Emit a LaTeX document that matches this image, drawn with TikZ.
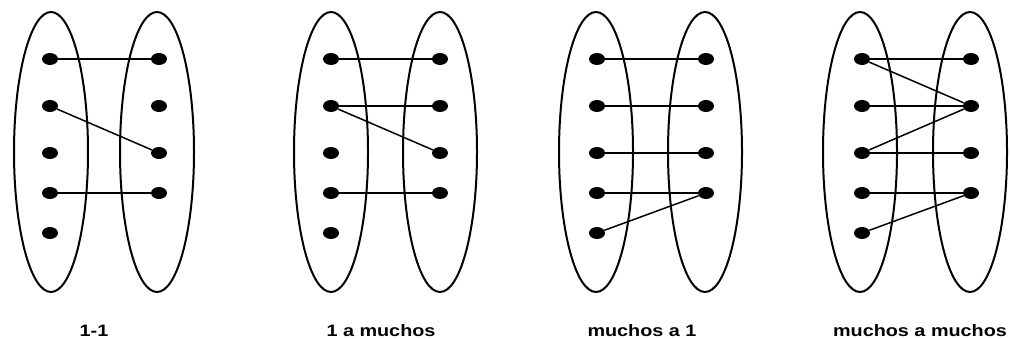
\documentclass[tikz,border=0pt]{standalone}
\usepackage{fontspec}
\setmainfont{Liberation Sans}
\usetikzlibrary{shapes.geometric}

\begin{document}
\begin{tikzpicture}[x=1pt, y=1pt,
  dot/.style={ellipse, fill=black, minimum width=16pt, minimum height=12pt, inner sep=0pt},
  set/.style={line width=2pt},
  link/.style={line width=1.5pt},
  caption/.style={anchor=base, font=\fontsize{16.5}{18}\selectfont\bfseries, xscale=1.2}]
  \useasboundingbox (0,0) rectangle (1011,339);

  % 1-1
  \draw[set] (51,187) ellipse (37 and 140);
  \draw[set] (157,187) ellipse (37 and 140);
  \node[dot] (a1) at (50,280) {};
  \node[dot] (a2) at (50,233) {};
  \node[dot] (a3) at (50,186) {};
  \node[dot] (a4) at (50,146) {};
  \node[dot] (a5) at (50,106) {};
  \node[dot] (b1) at (159,280) {};
  \node[dot] (b2) at (159,233) {};
  \node[dot] (b3) at (159,186) {};
  \node[dot] (b4) at (159,146) {};
  \draw[link] (a1) -- (b1);
  \draw[link] (a2) -- (b3);
  \draw[link] (a4) -- (b4);
  \node[caption] (lab1) at (94,2) {1-1};

  % 1 a muchos
  \draw[set] (331,187) ellipse (37 and 140);
  \draw[set] (440,187) ellipse (37 and 140);
  \node[dot] (c1) at (331,280) {};
  \node[dot] (c2) at (331,233) {};
  \node[dot] (c3) at (331,186) {};
  \node[dot] (c4) at (331,146) {};
  \node[dot] (c5) at (331,106) {};
  \node[dot] (d1) at (440,280) {};
  \node[dot] (d2) at (440,233) {};
  \node[dot] (d3) at (440,186) {};
  \node[dot] (d4) at (440,146) {};
  \draw[link] (c1) -- (d1);
  \draw[link] (c2) -- (d2);
  \draw[link] (c2) -- (d3);
  \draw[link] (c4) -- (d4);
  \node[caption] (lab2) at (381,2) {1 a muchos};

  % muchos a 1
  \draw[set] (596,187) ellipse (37 and 140);
  \draw[set] (705,187) ellipse (37 and 140);
  \node[dot] (e1) at (597,280) {};
  \node[dot] (e2) at (597,233) {};
  \node[dot] (e3) at (597,186) {};
  \node[dot] (e4) at (597,146) {};
  \node[dot] (e5) at (597,106) {};
  \node[dot] (f1) at (706,280) {};
  \node[dot] (f2) at (706,233) {};
  \node[dot] (f3) at (706,186) {};
  \node[dot] (f4) at (706,146) {};
  \draw[link] (e1) -- (f1);
  \draw[link] (e2) -- (f2);
  \draw[link] (e3) -- (f3);
  \draw[link] (e4) -- (f4);
  \draw[link] (e5) -- (f4);
  \node[caption] (lab3) at (642,2) {muchos a 1};

  % muchos a muchos
  \draw[set] (860,187) ellipse (37 and 140);
  \draw[set] (970,187) ellipse (37 and 140);
  \node[dot] (g1) at (862,280) {};
  \node[dot] (g2) at (862,233) {};
  \node[dot] (g3) at (862,186) {};
  \node[dot] (g4) at (862,146) {};
  \node[dot] (g5) at (862,106) {};
  \node[dot] (h1) at (971,280) {};
  \node[dot] (h2) at (971,233) {};
  \node[dot] (h3) at (971,186) {};
  \node[dot] (h4) at (971,146) {};
  \draw[link] (g1) -- (h1);
  \draw[link] (g1) -- (h2);
  \draw[link] (g2) -- (h2);
  \draw[link] (g3) -- (h2);
  \draw[link] (g3) -- (h3);
  \draw[link] (g4) -- (h4);
  \draw[link] (g5) -- (h4);
  \node[caption] (lab4) at (920,2) {muchos a muchos};

\end{tikzpicture}
\end{document}
